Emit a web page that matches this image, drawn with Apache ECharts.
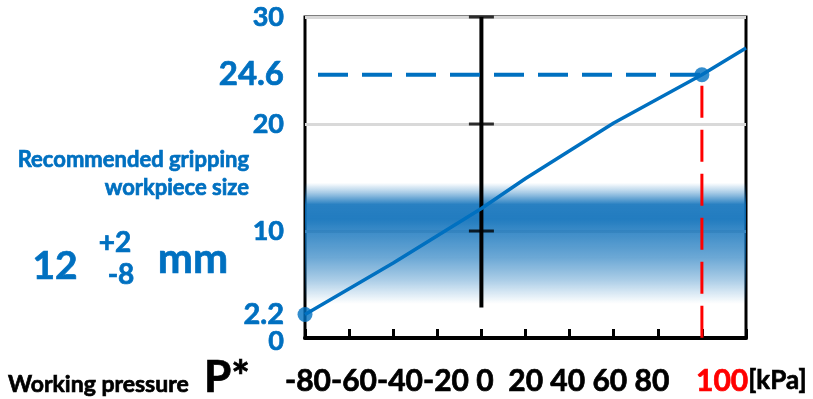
<!DOCTYPE html>
<html>
<head>
<meta charset="utf-8">
<script src="https://cdn.jsdelivr.net/npm/echarts@6/dist/echarts.min.js"></script>
<style>html,body{margin:0;padding:0;background:#fff}#c{width:813px;height:399px}</style>
</head>
<body>
<div id="c"></div>
<script>
// ---- data ----
const curvePoints = [[-80, 2.2], [-40, 7.0], [0, 12.1], [20, 14.9], [60, 20.1], [100, 24.6], [120, 27.1]];
const keyPoints = [[-80, 2.2], [100, 24.6]];
const workPressure = 100;
const workSize = 24.6;
const yLabelValues = [0, 10, 20, 24.6, 30];
const yLabelExtra = [2.2];
const centerTickValues = [10, 20, 30];
const bandRange = [3.2, 14.5];
const xTickLabels = ['-80', '-60', '-40', '-20', '0', '20', '40', '60', '80', '100'];
const xUnit = '[kPa]';

const BLUE = '#0070c0';
const FONT = 'Lato, "Open Sans", sans-serif';
const SW = 0.7; // slight stroke to mimic a heavier bold face

const chart = echarts.init(document.getElementById('c'));

const blackLabels = xTickLabels.slice(0, 4).join('') + ' ' + xTickLabels[4] + '  ' + xTickLabels.slice(5, 9).join(' ');

function yLabelFormatter(v) {
  if (Math.abs(v - 24.6) < 1e-6) return '{big|24.6}';
  if (Math.abs(v - 2.2) < 1e-6) return '{mid|2.2}';
  if (v === 0) return '{low|0}';
  return '{n|' + v + '}';
}
const yBase = { fontFamily: FONT, fontWeight: 'bold', color: BLUE, textBorderColor: BLUE, textBorderWidth: SW };
const yRich = {
  n: Object.assign({ fontSize: 27 }, yBase),
  big: Object.assign({ fontSize: 33 }, yBase),
  mid: Object.assign({ fontSize: 29 }, yBase),
  low: Object.assign({ fontSize: 27, padding: [6, 0, 0, 0] }, yBase)
};

function makeYAxis(values, split) {
  return {
    type: 'value', min: 0, max: 30, interval: 10, position: 'left',
    axisLine: { show: false },
    axisTick: { show: false },
    splitLine: { show: split, lineStyle: { color: '#d9d9d9', width: 3 } },
    axisLabel: {
      show: true, showMinLabel: true, showMaxLabel: true, hideOverlap: false,
      customValues: values, margin: 21,
      fontFamily: FONT, fontWeight: 'bold', color: BLUE, fontSize: 27,
      formatter: yLabelFormatter, rich: yRich
    }
  };
}

function txt(x, y, text, align, color, size) {
  return {
    type: 'text', x: x, y: y,
    style: { text: text, align: align, verticalAlign: 'middle', fill: color, stroke: color, lineWidth: SW, font: 'bold ' + size + 'px ' + FONT }
  };
}

chart.setOption({
  animation: false,
  grid: { left: 305, right: 67, top: 17, bottom: 61, show: true, borderColor: '#000', borderWidth: 3, containLabel: false },
  xAxis: {
    type: 'value', min: -80, max: 120, interval: 20,
    axisLine: { show: true, lineStyle: { color: '#000', width: 4 } },
    axisTick: { show: true, inside: true, length: 9, lineStyle: { color: '#000', width: 3 } },
    axisLabel: { show: false },
    splitLine: { show: false }
  },
  yAxis: [makeYAxis(yLabelValues, true), makeYAxis(yLabelExtra, false)],
  series: [
    {
      type: 'line', name: 'zero', data: [[0, 2.85], [0, 30]], symbol: 'none',
      lineStyle: { color: '#000', width: 4 }, z: 2, silent: true
    },
    {
      type: 'scatter', name: 'zeroTicks', data: centerTickValues.map(v => [0, v]), symbol: 'rect', symbolSize: [25, 3],
      itemStyle: { color: '#000' }, z: 2, silent: true
    },
    {
      type: 'line', name: 'curve', data: curvePoints, symbol: 'none',
      lineStyle: { color: BLUE, width: 3.5 }, z: 3
    },
    {
      type: 'line', name: 'hdash', data: [[-80, workSize], [workPressure, workSize]], symbol: 'none',
      lineStyle: { color: BLUE, width: 4, type: [30, 14], dashOffset: 31 }, z: 3
    },
    {
      type: 'line', name: 'vdash', data: [[workPressure, workSize], [workPressure, 0]], symbol: 'none',
      lineStyle: { color: '#ff0000', width: 3, type: [32, 12], dashOffset: 33 }, z: 3
    },
    {
      type: 'line', name: 'band', data: [], z: 5,
      markArea: {
        silent: true,
        itemStyle: {
          color: {
            type: 'linear', x: 0, y: 0, x2: 0, y2: 1,
            colorStops: [
              { offset: 0, color: 'rgba(10,110,185,0)' },
              { offset: 0.08, color: 'rgba(10,110,185,0.35)' },
              { offset: 0.18, color: 'rgba(10,110,185,0.88)' },
              { offset: 0.3, color: 'rgba(10,110,185,0.9)' },
              { offset: 0.42, color: 'rgba(10,110,185,0.78)' },
              { offset: 0.62, color: 'rgba(10,110,185,0.6)' },
              { offset: 0.8, color: 'rgba(10,110,185,0.35)' },
              { offset: 0.93, color: 'rgba(10,110,185,0.12)' },
              { offset: 1, color: 'rgba(10,110,185,0)' }
            ]
          }
        },
        data: [[{ yAxis: bandRange[1] }, { yAxis: bandRange[0] }]]
      }
    },
    {
      type: 'scatter', name: 'points', data: keyPoints, symbolSize: 15,
      itemStyle: { color: BLUE }, z: 10
    }
  ],
  graphic: [
    txt(249, 160, 'Recommended gripping', 'right', BLUE, 22),
    txt(249, 188, 'workpiece size', 'right', BLUE, 22),
    txt(55, 266, '12', 'center', BLUE, 39),
    txt(115, 243, '+2', 'center', BLUE, 28),
    txt(121, 275, '-8', 'center', BLUE, 28),
    txt(193, 259, 'mm', 'center', BLUE, 42),
    txt(8, 385, 'Working pressure', 'left', '#000', 23),
    txt(204, 378, 'P*', 'left', '#000', 44),
    txt(285, 381, blackLabels, 'left', '#000', 30),
    {
      type: 'text', x: 696, y: 381,
      style: {
        text: '{r|' + xTickLabels[9] + '}{b|' + xUnit + '}',
        align: 'left', verticalAlign: 'middle',
        rich: {
          b: { fill: '#000', stroke: '#000', lineWidth: SW, font: 'bold 26px ' + FONT },
          r: { fill: '#ff0000', stroke: '#ff0000', lineWidth: SW, font: 'bold 30px ' + FONT }
        }
      }
    }
  ]
});
</script>
</body>
</html>
